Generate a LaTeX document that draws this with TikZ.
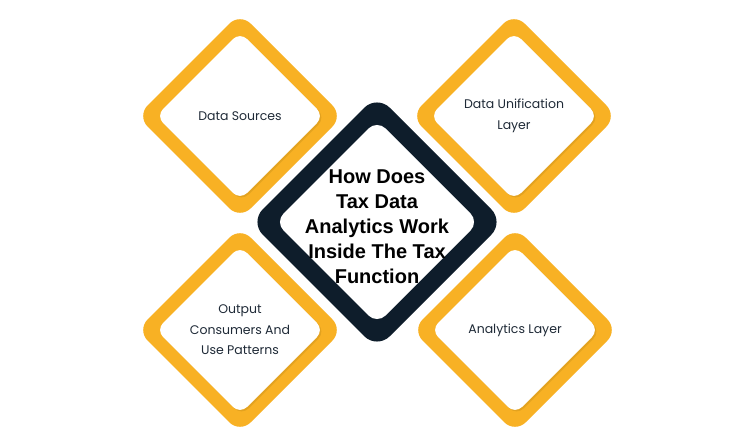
\documentclass[tikz,border=0pt]{standalone}
\usepackage{fontspec}
\setmainfont{Poppins}
\newfontfamily\titlefont{Liberation Sans}
\definecolor{gold}{HTML}{F8B124}
\definecolor{golddark}{HTML}{E3A21F}
\definecolor{navy}{HTML}{0E1D2B}
\definecolor{labelc}{HTML}{1F2A37}
\newcommand\RoundDiam[5]{% cx cy half radius color
  \fill[#5, rounded corners=#4] (#1,#2-#3) -- (#1+#3,#2) -- (#1,#2+#3) -- (#1-#3,#2) -- cycle;}
\tikzset{
  lbl/.style={align=center, text=labelc, font=\fontsize{12.5}{20.5}\selectfont},
  ttl/.style={align=center, text=black, font=\titlefont\bfseries\fontsize{20}{25}\selectfont}
}
\begin{document}
\begin{tikzpicture}[x=1pt,y=-1pt]
\useasboundingbox[fill=white] (0,0) rectangle (754,446);
% gold diamonds
\foreach \cx/\cy in {240/116, 514/116, 240/330, 515/330}{
  \RoundDiam{\cx}{\cy}{103}{15}{gold}
  \RoundDiam{\cx+1.5}{\cy+1.5}{84}{10}{golddark}
  \RoundDiam{\cx}{\cy}{84}{10}{white}
}
% central diamond
\RoundDiam{377}{222}{132}{20}{white}
\RoundDiam{377}{222}{127}{18}{navy}
\RoundDiam{377}{222}{102}{12}{white}
% labels
\node[lbl] (ds) at (240,116) {Data Sources};
\node[lbl] (du) at (514,116) {Data Unification\\Layer};
\node[lbl] (oc) at (240,330) {Output\\Consumers And\\Use Patterns};
\node[lbl] (al) at (515,330) {Analytics Layer};
\node[ttl] (t) at (377,227) {How Does\\Tax Data\\Analytics Work\\Inside The Tax\\Function};
\end{tikzpicture}
\end{document}
